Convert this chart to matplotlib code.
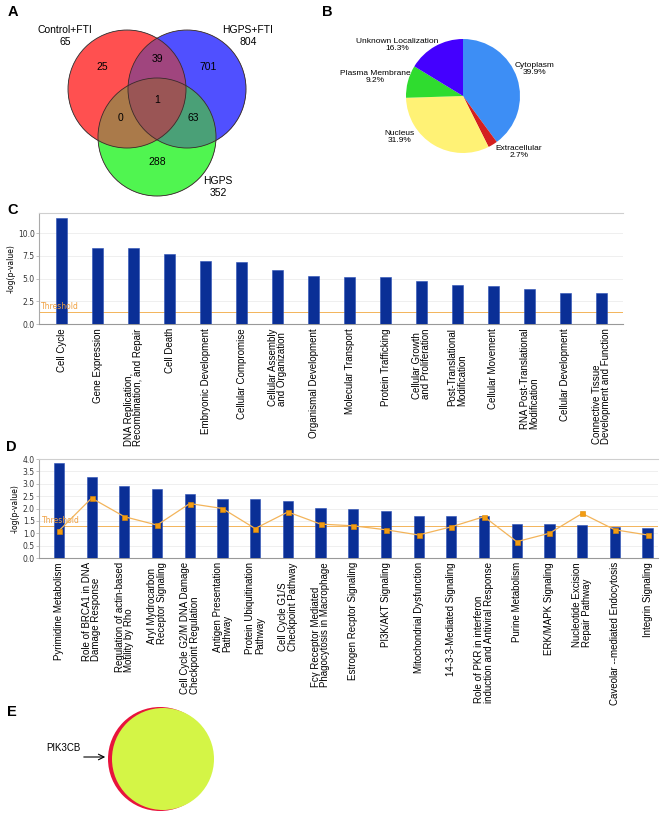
import numpy as np
import matplotlib
matplotlib.use("Agg")
import matplotlib.pyplot as plt
from matplotlib.patches import Circle

plt.rcParams['font.family'] = ['Liberation Sans', 'DejaVu Sans']

# ---- panel A : venn counts
venn_sets = ['Control+FTI', 'HGPS+FTI', 'HGPS']
venn_totals = [65, 804, 352]
venn_regions = ['100', '010', '001', '110', '101', '011', '111']
venn_counts = [25, 701, 288, 39, 0, 63, 1]

# ---- panel B : subcellular localization
loc_names = ['Cytoplasm', 'Extracellular', 'Nucleus', 'Plasma Membrane', 'Unknown Localization']
loc_pct = [39.9, 2.7, 31.9, 9.2, 16.3]
loc_colors = ['#3d8ef5', '#d42020', '#fff275', '#2fdc2f', '#4400ff']

# ---- panel C : functions
func_names = ['Cell Cycle', 'Gene Expression', 'DNA Replication,\nRecombination, and Repair',
              'Cell Death', 'Embryonic Development', 'Cellular Compromise',
              'Cellular Assembly\nand Organization', 'Organismal Development',
              'Molecular Transport', 'Protein Trafficking', 'Cellular Growth\nand Proliferation',
              'Post-Translational\nModification', 'Cellular Movement',
              'RNA Post-Translational\nModification', 'Cellular Development',
              'Connective Tissue\nDevelopment and Function']
func_logp = [11.7, 8.4, 8.3, 7.7, 6.9, 6.8, 5.9, 5.3, 5.2, 5.2, 4.7, 4.3, 4.2, 3.9, 3.4, 3.4]

# ---- panel D : canonical pathways
path_names = ['Pyrimidine Metabolism', 'Role of BRCA1 in DNA\nDamage Response',
              'Regulation of actin-based\nMotility by Rho', 'Aryl Mydrocarbon\nReceptor Signaling',
              'Cell Cycle G2/M DNA Damage\nCheckpoint Regulation', 'Antigen Presentation\nPathway',
              'Protein Ubiquitination\nPathway', 'Cell Cycle G1/S\nCheckpoint Pathway',
              'Fc\u03b3 Receptor Mediated\nPhagocytosis in Macrophage', 'Estrogen Recptor Signaling',
              'PI3K/AKT Signaling', 'Mitochondrial Dysfunction', '14-3-3-Mediated Signaling',
              'Role of PKR in interferon\ninduction and Antiviral Response', 'Purine Metabolism',
              'ERK/MAPK Signaling', 'Nucleotide Excision\nRepair Pathway',
              'Caveolar --mediated Endocytosis', 'Integrin Signaling']
path_logp = [3.84, 3.27, 2.9, 2.78, 2.58, 2.4, 2.38, 2.32, 2.04, 1.98, 1.88, 1.71, 1.68,
             1.68, 1.38, 1.37, 1.34, 1.26, 1.21]
path_ratio = [1.1, 2.42, 1.67, 1.33, 2.2, 2.0, 1.19, 1.86, 1.37, 1.3, 1.14, 0.93, 1.26,
              1.67, 0.66, 1.0, 1.8, 1.14, 0.93]
threshold = 1.3

# ---- panel E
e_gene = 'PIK3CB'

BAR = '#0a2f96'
ORANGE = '#f3b45a'

fig = plt.figure(figsize=(6.61, 8.13), dpi=100)

# overlay in pixel units for venn, panel E and letters
ov = fig.add_axes([0, 0, 1, 1])
ov.set_xlim(0, 661)
ov.set_ylim(813, 0)
ov.axis('off')

# venn: colour every region by membership
centers = [(127, 89), (187, 89), (157, 137)]
rad = 59
region_col = {'100': '#ff5050', '010': '#5050ff', '001': '#50f550', '110': '#a0457f',
              '101': '#aa7a4a', '011': '#4ba078', '111': '#9a5555'}
xs = np.arange(60, 256, 0.25)
ys = np.arange(20, 206, 0.25)
gx, gy = np.meshgrid(xs, ys)
inside = [((gx - cx) ** 2 + (gy - cy) ** 2) <= rad ** 2 for cx, cy in centers]
img = np.zeros(gx.shape + (4,))
for key, col in region_col.items():
    m = np.ones(gx.shape, bool)
    for k, ch in enumerate(key):
        m &= inside[k] if ch == '1' else ~inside[k]
    img[m] = matplotlib.colors.to_rgba(col)
ov.imshow(img, extent=(xs[0], xs[-1], ys[-1], ys[0]), origin='upper', interpolation='antialiased')
for cx, cy in centers:
    ov.add_patch(Circle((cx, cy), rad, fill=False, ec='#3a2a2a', lw=0.6))
ov.set_xlim(0, 661)
ov.set_ylim(813, 0)
ov.set_aspect('auto')

region_xy = [(102, 67), (208, 67), (157, 162), (157, 59), (120, 118), (193, 118), (157, 100)]
for (px, py), n in zip(region_xy, venn_counts):
    ov.text(px, py, str(n), ha='center', va='center', fontsize=7.5)
set_xy = [(65, 36), (248, 36), (218, 187)]
for (px, py), name, tot in zip(set_xy, venn_sets, venn_totals):
    ov.text(px, py, f'{name}\n{tot}', ha='center', va='center', fontsize=7.5, linespacing=1.15)

# panel E
ov.add_patch(Circle((160, 759), 52, color='#e8143c', lw=0))
ov.add_patch(Circle((163, 759), 51, color='#d4f546', lw=0))
ov.annotate('', xy=(108, 757), xytext=(81, 757),
            arrowprops=dict(arrowstyle='->', lw=0.8, color='black'))
ov.text(63, 748, e_gene, ha='center', va='center', fontsize=7)

for lab, (px, py) in zip('ABCDE', [(8, 12), (322, 12), (7, 210), (6, 447), (7, 712)]):
    ov.text(px, py, lab, fontsize=10.5, fontweight='bold', ha='left', va='center')

# panel B pie
pa = fig.add_axes([(463 - 57) / 661, 1 - (96 + 57) / 813, 114 / 661, 114 / 813])
pa.pie(loc_pct, colors=loc_colors, startangle=90, counterclock=False,
       wedgeprops=dict(linewidth=0))
pa.set_xlim(-1, 1)
pa.set_ylim(-1, 1)
label_xy = [(1.26, 0.47), (0.98, -0.98), (-1.12, -0.72), (-1.54, 0.33), (-1.16, 0.89)]
for (lx, ly), name, p in zip(label_xy, loc_names, loc_pct):
    pa.text(lx, ly, f'{name}\n{p}%', ha='center', va='center', fontsize=6, linespacing=1.05)


def style_bar_axes(ax, ymax, ticks):
    ax.set_facecolor('none')
    ax.set_ylim(0, ymax)
    ax.set_yticks(ticks)
    ax.set_yticklabels([f'{t:.1f}' for t in ticks], fontsize=5.5, color='#333333',
                       family='DejaVu Sans')
    ax.yaxis.grid(True, color='#ececec', lw=0.6)
    ax.set_axisbelow(True)
    ax.spines['right'].set_visible(False)
    ax.spines['top'].set_color('#cfcfcf')
    ax.spines['left'].set_color('#aaaaaa')
    ax.spines['bottom'].set_color('#999999')
    ax.tick_params(axis='y', length=2, width=0.5, color='#aaaaaa', pad=1)
    ax.tick_params(axis='x', length=0, pad=3)
    ax.set_ylabel('-log(p-value)', fontsize=5.5, labelpad=2, family='DejaVu Sans')
    ax.axhline(threshold, color=ORANGE, lw=0.7, zorder=2)
    ax.text(0.004, threshold + ymax * 0.01, 'Threshold', transform=ax.get_yaxis_transform(),
            color='#f0a040', fontsize=5.5, va='bottom', ha='left', family='DejaVu Sans')


# panel C
axC = fig.add_axes([39 / 661, 1 - 324 / 813, (623 - 39) / 661, 111 / 813])
xc = np.arange(len(func_names))
axC.bar(xc, func_logp, width=0.31, color=BAR, edgecolor='#2a4fb5', lw=0.4, zorder=3)
axC.set_xlim(-0.63, len(func_names) - 0.4)
style_bar_axes(axC, 12.2, [0, 2.5, 5, 7.5, 10])
axC.set_xticks(xc)
axC.set_xticklabels(func_names, rotation=90, fontsize=7, ha='center', va='top',
                    multialignment='left', linespacing=0.95)

# panel D
axD = fig.add_axes([39 / 661, 1 - 558 / 813, (658 - 39) / 661, 99 / 813])
xd = np.arange(len(path_names))
axD.bar(xd, path_logp, width=0.31, color=BAR, edgecolor='#2a4fb5', lw=0.4, zorder=3)
axD.plot(xd, path_ratio, color=ORANGE, lw=0.9, marker='s', ms=3.6,
         mfc='#f39c12', mec='#e08a00', mew=0.4, zorder=4)
axD.set_xlim(-0.61, len(path_names) - 0.68)
style_bar_axes(axD, 4.0, np.arange(0, 4.01, 0.5))
axD.set_xticks(xd)
axD.set_xticklabels(path_names, rotation=90, fontsize=7, ha='center', va='top',
                    multialignment='left', linespacing=0.95)

fig.savefig('out.png', dpi=100)
